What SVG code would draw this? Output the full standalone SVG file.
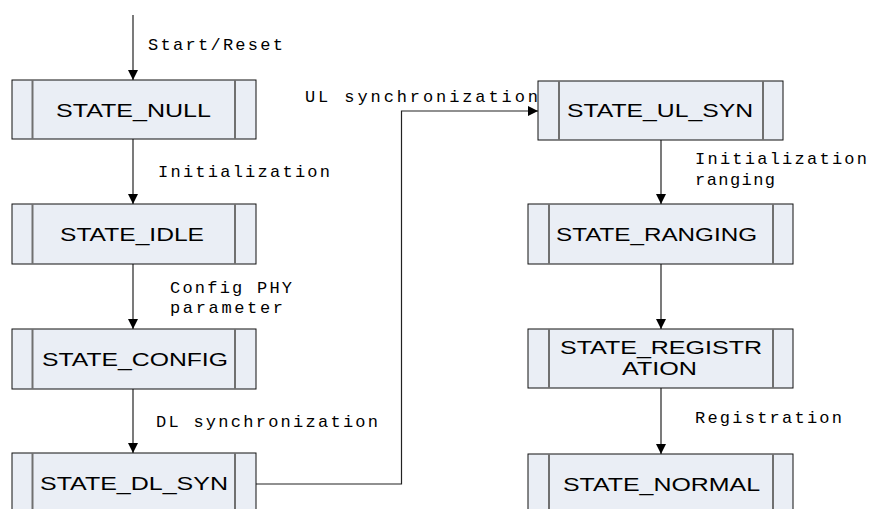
<svg xmlns="http://www.w3.org/2000/svg" width="870" height="509" viewBox="0 0 870 509">
<defs>
<marker id="ah" viewBox="0 0 10 10" refX="10" refY="5" markerWidth="10" markerHeight="10" markerUnits="userSpaceOnUse" orient="auto">
<path d="M0,0 L10,5 L0,10 Z" fill="#000"/>
</marker>
<style>
.box{fill:#eaeef5;stroke:#111;stroke-width:1}
.div{stroke:#707070;stroke-width:2}
.st{font-family:"Liberation Sans",Arial,sans-serif;font-size:17.5px;fill:#000}
.lb{font-family:"Liberation Mono","Courier New",monospace;font-size:17px;fill:#000}
.cn{fill:none;stroke:#222;stroke-width:1.2;marker-end:url(#ah)}
</style>
</defs>
<rect width="870" height="509" fill="#fff"/>
<g id="connectors">
<path class="cn" d="M133,15 V80"/>
<path class="cn" d="M133,139 V204"/>
<path class="cn" d="M133,264 V329"/>
<path class="cn" d="M133,389 V453"/>
<path class="cn" d="M256,484 H401.5 V111 H538"/>
<path class="cn" d="M661,140 V204"/>
<path class="cn" d="M661,264 V329"/>
<path class="cn" d="M661,388 V454"/>
<text class="lb" x="148" y="50" textLength="135" lengthAdjust="spacing">Start/Reset</text>
<text class="lb" x="158" y="177" textLength="172" lengthAdjust="spacing">Initialization</text>
<text class="lb" x="170" y="293" textLength="122" lengthAdjust="spacing">Config PHY</text>
<text class="lb" x="170" y="313" textLength="113" lengthAdjust="spacing">parameter</text>
<text class="lb" x="156" y="427" textLength="222" lengthAdjust="spacing">DL synchronization</text>
<text class="lb" x="305" y="102" textLength="233" lengthAdjust="spacing">UL synchronization</text>
<text class="lb" x="695" y="164" textLength="172" lengthAdjust="spacing">Initialization</text>
<text class="lb" x="695" y="185" textLength="80" lengthAdjust="spacing">ranging</text>
<text class="lb" x="695" y="423" textLength="147" lengthAdjust="spacing">Registration</text>
</g>
<g id="null">
<rect class="box" x="12" y="80" width="244" height="59"/>
<line class="div" x1="32.5" y1="80" x2="32.5" y2="139"/><line class="div" x1="235" y1="80" x2="235" y2="139"/>
<text class="st" x="56" y="116.5" textLength="155" lengthAdjust="spacingAndGlyphs">STATE_NULL</text>
</g>
<g id="idle">
<rect class="box" x="12" y="204" width="244" height="60"/>
<line class="div" x1="32.5" y1="204" x2="32.5" y2="264"/><line class="div" x1="235" y1="204" x2="235" y2="264"/>
<text class="st" x="60" y="240.5" textLength="144" lengthAdjust="spacingAndGlyphs">STATE_IDLE</text>
</g>
<g id="config">
<rect class="box" x="12" y="329" width="244" height="60"/>
<line class="div" x1="32.5" y1="329" x2="32.5" y2="389"/><line class="div" x1="235" y1="329" x2="235" y2="389"/>
<text class="st" x="42" y="366" textLength="186" lengthAdjust="spacingAndGlyphs">STATE_CONFIG</text>
</g>
<g id="dlsyn">
<rect class="box" x="12" y="453" width="244" height="70"/>
<line class="div" x1="32.5" y1="453" x2="32.5" y2="523"/><line class="div" x1="235" y1="453" x2="235" y2="523"/>
<text class="st" x="40" y="490" textLength="188" lengthAdjust="spacingAndGlyphs">STATE_DL_SYN</text>
</g>
<g id="ulsyn">
<rect class="box" x="538" y="81" width="245" height="59"/>
<line class="div" x1="559" y1="81" x2="559" y2="140"/><line class="div" x1="763" y1="81" x2="763" y2="140"/>
<text class="st" x="567" y="117" textLength="186" lengthAdjust="spacingAndGlyphs">STATE_UL_SYN</text>
</g>
<g id="ranging">
<rect class="box" x="528" y="204" width="265" height="60"/>
<line class="div" x1="549" y1="204" x2="549" y2="264"/><line class="div" x1="773" y1="204" x2="773" y2="264"/>
<text class="st" x="556" y="240.5" textLength="201" lengthAdjust="spacingAndGlyphs">STATE_RANGING</text>
</g>
<g id="registration">
<rect class="box" x="528" y="329" width="265" height="59"/>
<line class="div" x1="549" y1="329" x2="549" y2="388"/><line class="div" x1="773" y1="329" x2="773" y2="388"/>
<text class="st" x="560" y="353.5" textLength="202" lengthAdjust="spacingAndGlyphs">STATE_REGISTR</text>
<text class="st" x="622" y="374.5" textLength="75" lengthAdjust="spacingAndGlyphs">ATION</text>
</g>
<g id="normal">
<rect class="box" x="528" y="454" width="265" height="70"/>
<line class="div" x1="549" y1="454" x2="549" y2="524"/><line class="div" x1="773" y1="454" x2="773" y2="524"/>
<text class="st" x="563" y="491" textLength="197" lengthAdjust="spacingAndGlyphs">STATE_NORMAL</text>
</g>
</svg>
